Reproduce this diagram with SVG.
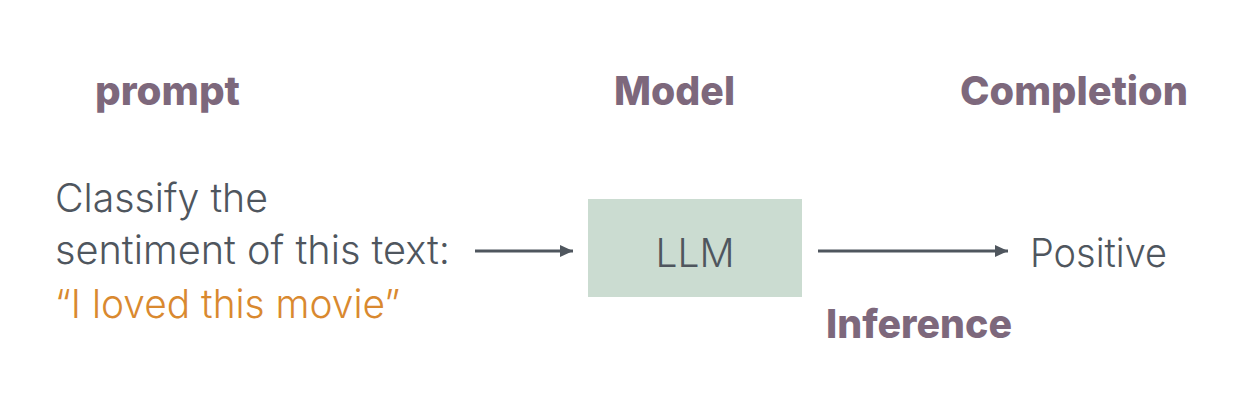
<svg xmlns="http://www.w3.org/2000/svg" width="1258" height="406" viewBox="0 0 1258 406">
<style>
.h{font-family:Inter,"Open Sans","Liberation Sans",sans-serif;font-weight:800;font-size:40px;fill:#7d687c}
.t{font-family:Inter,"Open Sans","Liberation Sans",sans-serif;font-weight:300;font-size:40px;fill:#4f565e}
.o{fill:#d9892f}
.c{stroke:#4f565e;stroke-width:3;fill:none;marker-end:url(#ah)}
</style>
<defs>
<marker id="ah" markerWidth="13" markerHeight="12" refX="13" refY="6" orient="auto" markerUnits="userSpaceOnUse" viewBox="0 0 13 12">
<path d="M0,0 L13,6 L0,12 z" fill="#4f565e"/>
</marker>
</defs>
<rect width="1258" height="406" fill="#fff"/>
<g id="label-prompt"><text class="h" x="95" y="105" textLength="145" lengthAdjust="spacingAndGlyphs">prompt</text></g>
<g id="label-model"><text class="h" x="614" y="105" textLength="121" lengthAdjust="spacingAndGlyphs">Model</text></g>
<g id="label-completion"><text class="h" x="960" y="105" textLength="228" lengthAdjust="spacingAndGlyphs">Completion</text></g>
<g id="prompt">
<text class="t" x="55" y="212" textLength="213" lengthAdjust="spacingAndGlyphs">Classify the</text>
<text class="t" x="55" y="264" textLength="395" lengthAdjust="spacingAndGlyphs">sentiment of this text:</text>
<text class="t o" x="55" y="318" textLength="345" lengthAdjust="spacingAndGlyphs">“I loved this movie”</text>
</g>
<g id="llm">
<rect x="588" y="199" width="214" height="98" fill="#cbdcd1"/>
<text class="t" x="695" y="267" text-anchor="middle" textLength="79" lengthAdjust="spacingAndGlyphs">LLM</text>
</g>
<g id="positive"><text class="t" x="1030" y="267" textLength="137" lengthAdjust="spacingAndGlyphs">Positive</text></g>
<g id="label-inference"><text class="h" x="826" y="338" textLength="186" lengthAdjust="spacingAndGlyphs">Inference</text></g>
<g id="connectors">
<line class="c" x1="475" y1="251" x2="573" y2="251"/>
<line class="c" x1="818" y1="251" x2="1008" y2="251"/>
</g>
</svg>
